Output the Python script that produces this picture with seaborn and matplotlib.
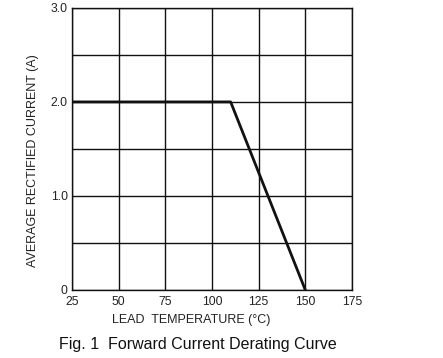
import matplotlib
matplotlib.use("Agg")
import matplotlib.pyplot as plt
import seaborn as sns
import numpy as np
import pandas as pd

# datos
lead_temp = [25, 110, 150]
avg_current = [2.0, 2.0, 0.0]
x_ticks = [25, 50, 75, 100, 125, 150, 175]
y_ticks = [0, 0.5, 1.0, 1.5, 2.0, 2.5, 3.0]
y_labels = ["0", "", "1.0", "", "2.0", "", "3.0"]

sns.set_style("white")
plt.rcParams['font.family'] = ['Liberation Sans', 'DejaVu Sans']

df = pd.DataFrame({"temp": lead_temp, "current": avg_current})

fig = plt.figure(figsize=(4.43, 3.58), dpi=100)
ax = fig.add_axes([0.1625, 0.19, 0.632, 0.788])

sns.lineplot(data=df, x="temp", y="current", color="#111111", linewidth=2.0, ax=ax)

ax.set_xlim(25, 175)
ax.set_ylim(0, 3.0)
ax.set_xticks(x_ticks)
ax.set_yticks(y_ticks)
ax.set_yticklabels(y_labels)
ax.grid(True, color="#111111", linewidth=1.0)
ax.set_axisbelow(True)
for s in ax.spines.values():
    s.set_color("#111111")
    s.set_linewidth(1.0)

ax.tick_params(axis='x', length=0, pad=4, labelsize=8.7, colors="#222222")
ax.tick_params(axis='y', length=2, width=1, direction='out', pad=1, labelsize=8.7, colors="#222222")

ax.set_xlabel("LEAD  TEMPERATURE (°C)", fontsize=9, labelpad=5, color="#222222")
ax.xaxis.set_label_coords(0.425, -0.085)
ax.set_ylabel("AVERAGE RECTIFIED CURRENT (A)", fontsize=9, labelpad=10, color="#222222")
ax.yaxis.set_label_coords(-0.118, 0.457)

fig.text(0.447, 0.038, "Fig. 1  Forward Current Derating Curve", ha='center', va='center',
         fontsize=11.5, color="#111111")

plt.savefig("out.png", dpi=100)
